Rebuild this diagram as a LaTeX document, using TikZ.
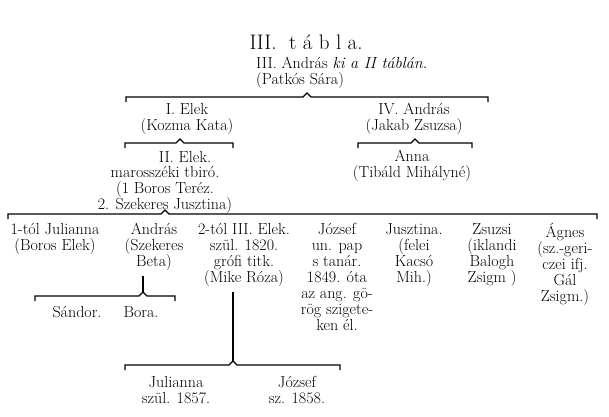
\documentclass[tikz,border=0pt]{standalone}
\usepackage{tikz}
\usetikzlibrary{positioning}

% fork: left x, right x, peak x, y, name of the peak
\newcommand{\fork}[5]{%
  \draw[brak] (#1,#4+5) -- (#1,#4) -- (#3-4,#4) -- (#3,#4-4) -- (#3+4,#4) -- (#2,#4) -- (#2,#4+5);
  \coordinate (#5) at (#3,#4-4);}

\begin{document}
\begin{tikzpicture}[x=1pt, y=-1pt,
  gen/.style={font=\fontsize{16}{16}\selectfont, align=center, inner sep=0pt, anchor=north,
    execute at begin node={\rule{0pt}{12pt}}},
  brak/.style={line width=1.2pt},
  stem/.style={line width=1.4pt}]
\useasboundingbox (0,0) rectangle (609,416);

\node[font=\fontsize{21}{24}\selectfont, anchor=base] (title) at (306,49) {III.\ \ t á b l a.};

% top generation
\node[gen, align=left, anchor=north west] (root) at (256,57) {III. András \textit{ki a II táblán.}\\(Patkós Sára)};
\fork{126}{488}{307}{97}{fk1}

\node[gen] (elekI) at (187,103) {I. Elek\\(Kozma Kata)};
\node[gen] (andrasIV) at (414,103) {IV. András\\(Jakab Zsuzsa)};
\fork{125}{233}{180}{143}{fk2}
\fork{358}{472}{415}{143}{fk3}

\node[gen] (elekII) at (185,150) {II. Elek.};
\node[gen] (elekIIinfo) at (165,166) {marosszéki tbiró.\\(1 Boros Teréz.\\2. Szekeres Jusztina)};
\node[gen] (anna) at (412,150) {Anna\\(Tibáld Mihályné)};
\fork{8}{597}{165}{214}{fk4}

% children of II. Elek
\node[gen] (julianna) at (55,223) {1-tól Julianna\\(Boros Elek)};
\node[gen] (andras) at (154,223) {András\\(Szekeres\\Beta)};
\node[gen] (elekIII) at (244,223) {2-tól III. Elek.\\szül. 1820.\\grófi titk.\\(Mike Róza)};
\node[gen] (jozsef) at (337,223) {József\\un. pap\\s tanár.\\1849. óta\\az ang. gö-\\rög szigete-\\ken él.};
\node[gen] (jusztina) at (414,223) {Jusztina.\\(felei\\Kacsó\\Mih.)};
\node[gen] (zsuzsi) at (492,223) {Zsuzsi\\(iklandi\\Balogh\\Zsigm )};
\node[gen] (agnes) at (565,223) {Ágnes\\(sz.-geri-\\czei ifj.\\Gál\\Zsigm.)};

% grandchildren
\fork{35}{175}{143}{296}{fk5}
\draw[stem] (andras.south -| fk5) ++(0,5) -- (fk5);
\node[gen] (sandor) at (77,305) {Sándor.};
\node[gen] (bora) at (141,305) {Bora.};

\fork{125}{340}{233}{365}{fk6}
\draw[stem] (elekIII.south -| fk6) ++(0,5) -- (fk6);
\node[gen] (julianna2) at (176,376) {Julianna\\szül. 1857.};
\node[gen] (jozsef2) at (297,376) {József\\sz. 1858.};
\end{tikzpicture}
\end{document}
